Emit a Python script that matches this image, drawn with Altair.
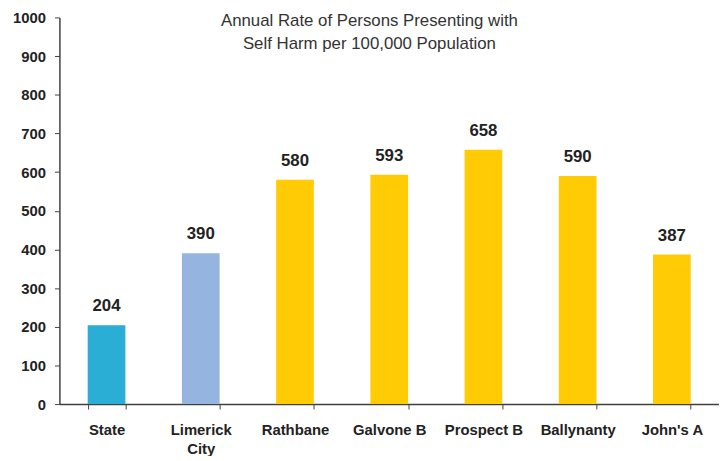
import altair as alt
import pandas as pd

categories = ["State", "Limerick City", "Rathbane", "Galvone B", "Prospect B", "Ballynanty", "John's A"]
rates = [204, 390, 580, 593, 658, 590, 387]
colors = ["#2AAED6", "#95B4DF", "#FFCB05", "#FFCB05", "#FFCB05", "#FFCB05", "#FFCB05"]
y_ticks = [0, 100, 200, 300, 400, 500, 600, 700, 800, 900, 1000]
title_lines = ["Annual Rate of Persons Presenting with", "Self Harm per 100,000 Population"]

df = pd.DataFrame({"area": categories, "rate": rates, "color": colors})

x = alt.X(
    "area:N",
    sort=categories,
    scale=alt.Scale(paddingInner=0.6, paddingOuter=0.3),
    axis=alt.Axis(
        title=None,
        labelAngle=0,
        labelFont="Liberation Sans",
        labelFontWeight="bold",
        labelFontSize=15,
        labelColor="#222222",
        labelPadding=14,
        labelExpr="datum.label == 'Limerick City' ? ['Limerick', 'City'] : datum.label",
        labelLineHeight=19,
        tickBand="extent",
        tickSize=5,
        tickColor="#404040",
        domainColor="#404040",
        domainWidth=1.5,
        grid=False,
    ),
)

y = alt.Y(
    "rate:Q",
    scale=alt.Scale(domain=[0, 1000], nice=False),
    axis=alt.Axis(
        title=None,
        values=y_ticks,
        format="d",
        labelOverlap=False,
        labelFont="Liberation Sans",
        labelFontWeight="bold",
        labelFontSize=15,
        labelColor="#222222",
        labelPadding=9,
        tickSize=5,
        tickColor="#404040",
        domainColor="#404040",
        domainWidth=1.5,
        grid=False,
    ),
)

base = alt.Chart(df).encode(x=x, y=y)

bars = base.mark_bar().encode(color=alt.Color("color:N", scale=None))

labels = base.mark_text(
    baseline="bottom",
    dy=-10,
    font="Liberation Sans",
    fontWeight="bold",
    fontSize=17,
    color="#222222",
).encode(text="rate:Q")

chart = (
    alt.layer(bars, labels)
    .properties(
        width=667,
        height=391,
        title=alt.TitleParams(
            text=title_lines,
            font="Liberation Sans",
            fontSize=17,
            fontWeight="normal",
            color="#333333",
            anchor="middle",
            baseline="top",
            offset=-43,
            dx=-20,
            lineHeight=23,
        ),
        autosize=alt.AutoSizeParams(type="none"),
        padding={"left": 52, "top": 7, "right": 0, "bottom": 50},
    )
    .configure_view(stroke=None)
)

chart.save("out.html", embed_options={"renderer": "svg", "actions": False})
